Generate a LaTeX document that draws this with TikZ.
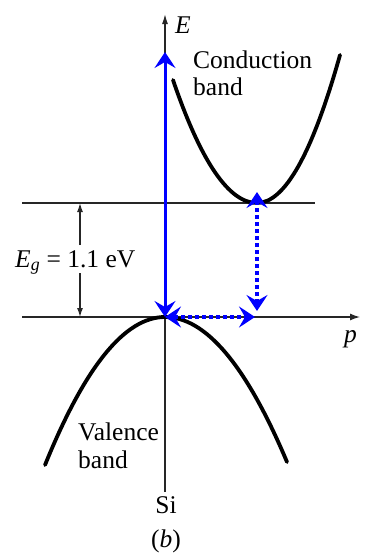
\documentclass[tikz,border=0pt]{standalone}
\usepackage{fontspec}
\setmainfont{Liberation Serif}
\newfontfamily\tms{Liberation Serif}
\usetikzlibrary{arrows.meta}
\begin{document}
\begin{tikzpicture}[x=1pt,y=-1pt,
  axis/.style={line width=1.3pt, black!85},
  band/.style={line width=3.8pt, black, line cap=round},
  dim/.style={line width=1.2pt, black!85, -{Latex[length=9pt,width=6pt]}},
  lbl/.style={font=\tms\fontsize{25.5}{28}\selectfont, inner sep=0pt},
  bhead/.tip={Stealth[length=16pt,width=21pt,inset=6pt]},
  bluearrow/.style={line width=3pt, blue, bhead-bhead},
  dotarrow/.style={bluearrow, line width=4pt, dash pattern=on 4pt off 3pt}
]
\useasboundingbox (0,0) rectangle (366,555);
% key points
\coordinate (O) at (165,317);
\coordinate (Etop) at (165,14);
\coordinate (Ebot) at (165,492);
\coordinate (Pl) at (22,317);
\coordinate (Pr) at (360,317);
\coordinate (Gl) at (22,203);
\coordinate (Gr) at (315,203);
\coordinate (CBmin) at (257,203);
\coordinate (CBl) at (173,80);
\coordinate (CBr) at (340,55);
\coordinate (VBl) at (45,465);
\coordinate (VBr) at (287,462);
\coordinate (EgTop) at (80,203);
\coordinate (EgBot) at (80,317);
\coordinate (EgA) at (80,245);
\coordinate (EgB) at (80,273);
\coordinate (Btop) at (165,52);
\coordinate (DVt) at (257,192);
\coordinate (DVb) at (257,311);
\coordinate (DHr) at (255,317);
% axes and lines
\draw[axis, -{Latex[length=10pt,width=6pt]}] (Ebot) -- (Etop);
\draw[axis, -{Latex[length=10pt,width=7pt]}] (Pl) -- (Pr);
\draw[axis] (Gl) -- (Gr);
% bands
\draw[band] (CBl) .. controls (201,162) and (229,203) .. (CBmin)
            .. controls (284.7,203) and (312.3,153.7) .. (CBr);
\draw[band] (VBl) .. controls (85,366.3) and (125,317) .. (O)
            .. controls (205.7,317) and (246.3,365.3) .. (VBr);
% gap dimension
\draw[dim] (EgA) -- (EgTop);
\draw[dim] (EgB) -- (EgBot);
% labels
\node[lbl, anchor=base west] (lE) at (175,33) {\textit{E}};
\node[lbl, anchor=base west] (lp) at (344,342) {\textit{p}};
\node[lbl, anchor=base west] (lC) at (193,68) {Conduction};
\node[lbl, anchor=base west] (lCb) at (193,95) {band};
\node[lbl, anchor=base west] (lV) at (78,440) {Valence};
\node[lbl, anchor=base west] (lVb) at (78,468) {band};
\node[lbl, anchor=base] (lSi) at (166,513) {Si};
\node[lbl, anchor=base] (lb) at (166,547) {(\textit{b})};
\node[lbl, anchor=base west] (lEg) at (15,267) {\textit{E}\textsubscript{\textit{g}} = 1.1 eV};
% blue transitions
\draw[bluearrow] (O) -- (Btop);
\draw[dotarrow] (DVt) -- (DVb);
\draw[dotarrow] (O) -- (DHr);
\end{tikzpicture}
\end{document}
